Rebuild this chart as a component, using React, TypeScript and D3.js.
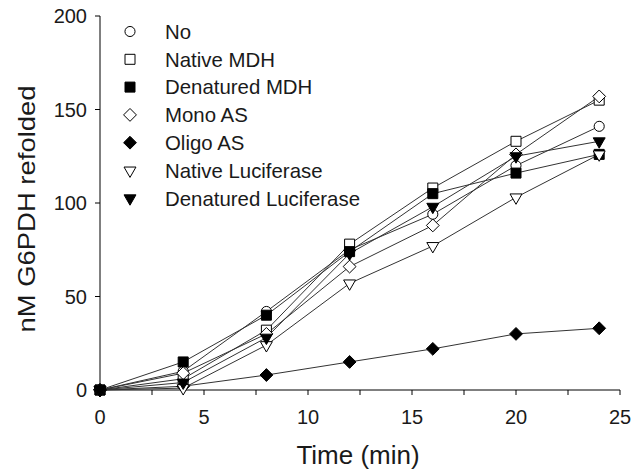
import { useEffect } from "react";
import * as d3 from "d3";

// time points (min)
const times = [0, 4, 8, 12, 16, 20, 24];

const seriesNames = [
  "No",
  "Native MDH",
  "Denatured MDH",
  "Mono AS",
  "Oligo AS",
  "Native Luciferase",
  "Denatured Luciferase",
];

// nM G6PDH refolded
const noValues = [0, 10, 42, 75, 94, 120, 141];
const nativeMdh = [0, 6, 32, 78, 108, 133, 155];
const denaturedMdh = [0, 15, 40, 74, 105, 116, 126];
const monoAs = [0, 9, 30, 66, 88, 126, 157];
const oligoAs = [0, 2, 8, 15, 22, 30, 33];
const nativeLuc = [0, 1, 24, 57, 77, 103, 126];
const denaturedLuc = [0, 4, 28, 73, 98, 125, 133];

const seriesValues = [noValues, nativeMdh, denaturedMdh, monoAs, oligoAs, nativeLuc, denaturedLuc];

const xTicks = [0, 5, 10, 15, 20, 25];
const xMinorTicks = [2.5, 7.5, 12.5, 17.5, 22.5];
const yTicks = [0, 50, 100, 150, 200];

// marker shape per series: [symbol, filled, rotate, size]
const markerStyle: [d3.SymbolType, boolean, number, number][] = [
  [d3.symbolCircle, false, 0, 80],
  [d3.symbolSquare, false, 0, 100],
  [d3.symbolSquare, true, 0, 100],
  [d3.symbolDiamond2, false, 0, 105],
  [d3.symbolDiamond2, true, 0, 105],
  [d3.symbolTriangle, false, 180, 62],
  [d3.symbolTriangle, true, 180, 62],
];

const FONT = "Liberation Sans, Arial, Helvetica, sans-serif";

function Marker(props: { i: number; x: number; y: number }) {
  const { i, x, y } = props;
  const [type, filled, rot, size] = markerStyle[i];
  const d = d3.symbol().type(type).size(size)() || "";
  return (
    <path
      d={d}
      transform={`translate(${x},${y}) rotate(${rot})`}
      fill={filled ? "#000" : "#fff"}
      stroke="#000"
      strokeWidth={1}
    />
  );
}

export default function App() {
  useEffect(() => {
    document.body.style.margin = "0";
  }, []);

  const width = 632;
  const height = 470;

  const x = d3.scaleLinear().domain([0, 25]).range([100, 620]);
  const y = d3.scaleLinear().domain([0, 200]).range([390, 16]);

  const line = d3
    .line<number>()
    .x((_, k) => x(times[k]))
    .y((v) => y(v));

  return (
    <svg width={width} height={height} style={{ display: "block", background: "#fff" }}>
      {/* axes */}
      <g stroke="#000" strokeWidth={1} fill="none">
        <line x1={x(0)} x2={x(0)} y1={y(200)} y2={y(0)} />
        <line x1={x(0)} x2={x(25)} y1={y(0)} y2={y(0)} />
        {yTicks.map((t) => (
          <line key={"yt" + t} x1={x(0) - 5} x2={x(0)} y1={y(t)} y2={y(t)} />
        ))}
        {xTicks.concat(xMinorTicks).map((t) => (
          <line key={"xt" + t} x1={x(t)} x2={x(t)} y1={y(0)} y2={y(0) + 5} />
        ))}
      </g>
      <g fontFamily={FONT} fontSize={20} fill="#1a1a1a">
        {yTicks.map((t) => (
          <text key={"yl" + t} x={x(0) - 13} y={y(t)} dy="0.35em" textAnchor="end">
            {t}
          </text>
        ))}
        {xTicks.map((t) => (
          <text key={"xl" + t} x={x(t)} y={y(0) + 34} textAnchor="middle">
            {t}
          </text>
        ))}
      </g>
      <text
        x={x(12.5) - 2}
        y={464}
        textAnchor="middle"
        fontFamily={FONT}
        fontSize={26}
        fill="#1a1a1a"
      >
        Time (min)
      </text>
      <text
        transform={`translate(35, 209) rotate(-90)`}
        textAnchor="middle"
        fontFamily={FONT}
        fontSize={24}
        fill="#1a1a1a"
        textLength={247}
        lengthAdjust="spacingAndGlyphs"
      >
        nM G6PDH refolded
      </text>

      {/* series lines */}
      {seriesValues.map((vals, i) => (
        <path key={"l" + i} d={line(vals) || ""} fill="none" stroke="#333" strokeWidth={1} />
      ))}
      {/* series markers */}
      {seriesValues.map((vals, i) => (
        <g key={"m" + i}>
          {vals.map((v, k) => (
            <Marker key={k} i={i} x={x(times[k])} y={y(v)} />
          ))}
        </g>
      ))}

      {/* legend */}
      {seriesNames.map((name, i) => {
        const cy = 31.5 + i * 27.8;
        return (
          <g key={"lg" + i}>
            <Marker i={i} x={130} y={cy} />
            <text x={165} y={cy} dy="0.36em" fontFamily={FONT} fontSize={20.4} fill="#1a1a1a">
              {name}
            </text>
          </g>
        );
      })}
    </svg>
  );
}
